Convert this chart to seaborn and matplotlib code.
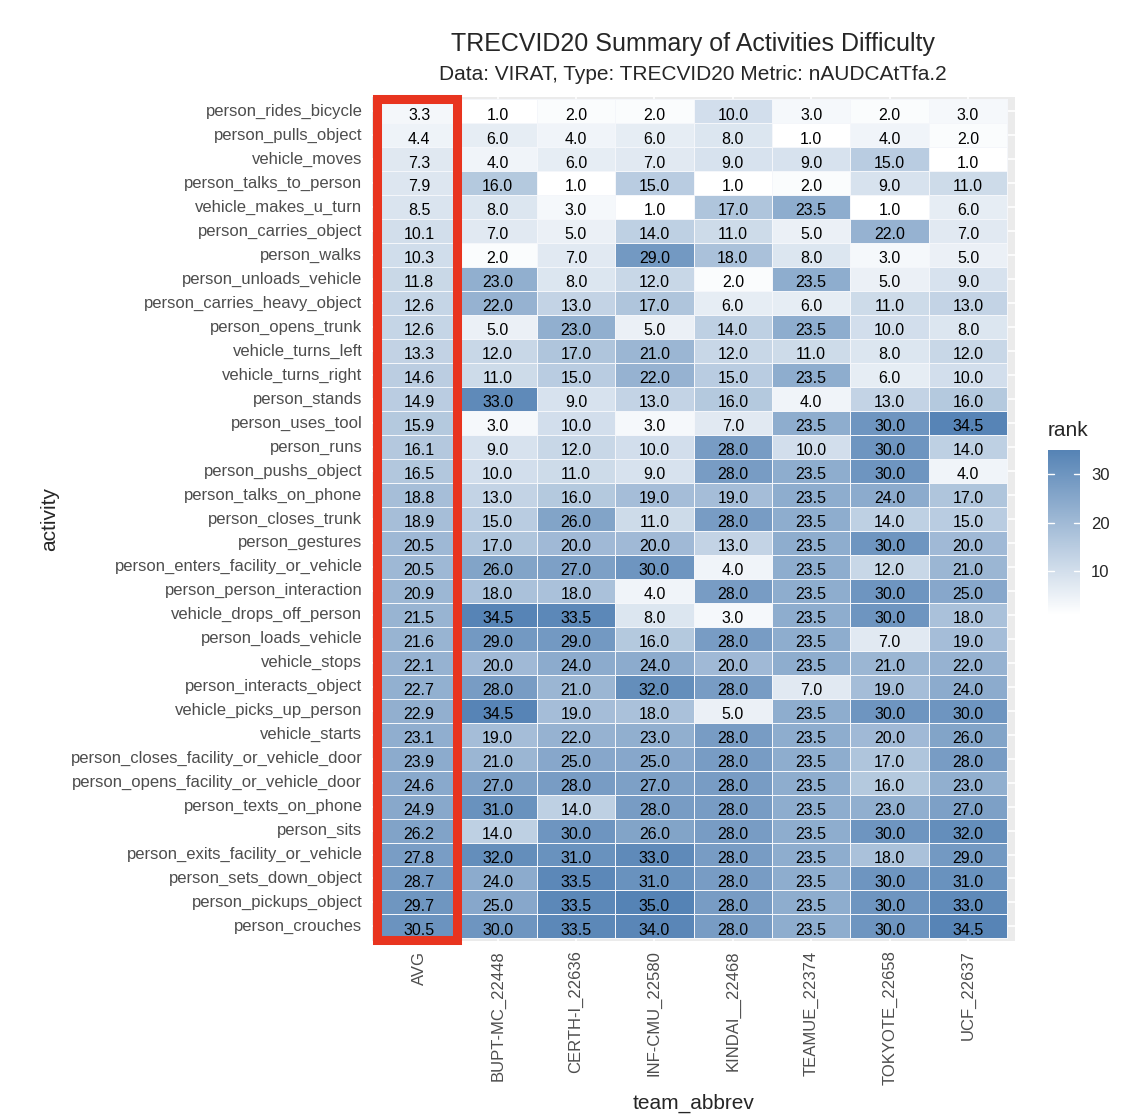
import numpy as np
import pandas as pd
import matplotlib
matplotlib.use('Agg')
import matplotlib.pyplot as plt
import seaborn as sns
from matplotlib.colors import LinearSegmentedColormap
from matplotlib.patches import Rectangle

activities = [
    'person_rides_bicycle', 'person_pulls_object', 'vehicle_moves',
    'person_talks_to_person', 'vehicle_makes_u_turn', 'person_carries_object',
    'person_walks', 'person_unloads_vehicle', 'person_carries_heavy_object',
    'person_opens_trunk', 'vehicle_turns_left', 'vehicle_turns_right',
    'person_stands', 'person_uses_tool', 'person_runs', 'person_pushs_object',
    'person_talks_on_phone', 'person_closes_trunk', 'person_gestures',
    'person_enters_facility_or_vehicle', 'person_person_interaction',
    'vehicle_drops_off_person', 'person_loads_vehicle', 'vehicle_stops',
    'person_interacts_object', 'vehicle_picks_up_person', 'vehicle_starts',
    'person_closes_facility_or_vehicle_door', 'person_opens_facility_or_vehicle_door',
    'person_texts_on_phone', 'person_sits', 'person_exits_facility_or_vehicle',
    'person_sets_down_object', 'person_pickups_object', 'person_crouches',
]

teams = ['AVG', 'BUPT-MC_22448', 'CERTH-I_22636', 'INF-CMU_22580', 'KINDAI__22468',
         'TEAMUE_22374', 'TOKYOTE_22658', 'UCF_22637']

avg = [3.3, 4.4, 7.3, 7.9, 8.5, 10.1, 10.3, 11.8, 12.6, 12.6, 13.3, 14.6, 14.9, 15.9,
       16.1, 16.5, 18.8, 18.9, 20.5, 20.5, 20.9, 21.5, 21.6, 22.1, 22.7, 22.9, 23.1,
       23.9, 24.6, 24.9, 26.2, 27.8, 28.7, 29.7, 30.5]
bupt = [1, 6, 4, 16, 8, 7, 2, 23, 22, 5, 12, 11, 33, 3, 9, 10, 13, 15, 17, 26, 18,
        34.5, 29, 20, 28, 34.5, 19, 21, 27, 31, 14, 32, 24, 25, 30]
certh = [2, 4, 6, 1, 3, 5, 7, 8, 13, 23, 17, 15, 9, 10, 12, 11, 16, 26, 20, 27, 18,
         33.5, 29, 24, 21, 19, 22, 25, 28, 14, 30, 31, 33.5, 33.5, 33.5]
infcmu = [2, 6, 7, 15, 1, 14, 29, 12, 17, 5, 21, 22, 13, 3, 10, 9, 19, 11, 20, 30, 4,
          8, 16, 24, 32, 18, 23, 25, 27, 28, 26, 33, 31, 35, 34]
kindai = [10, 8, 9, 1, 17, 11, 18, 2, 6, 14, 12, 15, 16, 7, 28, 28, 19, 28, 13, 4, 28,
          3, 28, 20, 28, 5, 28, 28, 28, 28, 28, 28, 28, 28, 28]
teamue = [3, 1, 9, 2, 23.5, 5, 8, 23.5, 6, 23.5, 11, 23.5, 4, 23.5, 10, 23.5, 23.5,
          23.5, 23.5, 23.5, 23.5, 23.5, 23.5, 23.5, 7, 23.5, 23.5, 23.5, 23.5, 23.5,
          23.5, 23.5, 23.5, 23.5, 23.5]
tokyote = [2, 4, 15, 9, 1, 22, 3, 5, 11, 10, 8, 6, 13, 30, 30, 30, 24, 14, 30, 12, 30,
           30, 7, 21, 19, 30, 20, 17, 16, 23, 30, 18, 30, 30, 30]
ucf = [3, 2, 1, 11, 6, 7, 5, 9, 13, 8, 12, 10, 16, 34.5, 14, 4, 17, 15, 20, 21, 25,
       18, 19, 22, 24, 30, 26, 28, 23, 27, 32, 29, 31, 33, 34.5]

df = pd.DataFrame({'AVG': avg, 'BUPT-MC_22448': bupt, 'CERTH-I_22636': certh,
                   'INF-CMU_22580': infcmu, 'KINDAI__22468': kindai,
                   'TEAMUE_22374': teamue, 'TOKYOTE_22658': tokyote, 'UCF_22637': ucf},
                  index=activities)[teams]

sns.set_style("white")
plt.rcParams['font.family'] = ['Liberation Sans', 'DejaVu Sans']

cmap = LinearSegmentedColormap.from_list('rank', ['#FFFFFF', '#5583B5'])

fig = plt.figure(figsize=(11.38, 11.16), dpi=100)
ax = fig.add_axes([0.327, 0.157, 0.565, 0.756])
cax = fig.add_axes([0.921, 0.449, 0.028, 0.148])

ax.set_facecolor('#EBEBEB')
sns.heatmap(df, ax=ax, cmap=cmap, vmin=1, vmax=35, annot=True, fmt='.1f',
            annot_kws={'fontsize': 11.5, 'color': 'black'},
            linewidths=0.6, linecolor='#F4F6FA', cbar_ax=cax)

# nudge the labels down a touch like the original
for t in ax.texts:
    x, y = t.get_position()
    t.set_position((x, y + 0.15))

ax.set_xlim(-0.1, len(teams) + 0.1)
ax.set_ylim(len(activities) + 0.1, -0.1)
for i in range(len(teams)):
    ax.axvline(i + 0.5, color='white', lw=1.2, zorder=0)
for j in range(len(activities)):
    ax.axhline(j + 0.5, color='white', lw=1.2, zorder=0)

ax.set_xticks(np.arange(len(teams)) + 0.5)
ax.set_xticklabels(teams, rotation=90, fontsize=12, color='#4D4D4D')
ax.set_yticks(np.arange(len(activities)) + 0.5)
ax.set_yticklabels(activities, rotation=0, fontsize=12, color='#4D4D4D')
ax.tick_params(axis='both', length=4, width=1, color='#333333', pad=3)
for s in ax.spines.values():
    s.set_visible(False)

ax.set_xlabel('team_abbrev', fontsize=15, labelpad=6)
ax.set_ylabel('activity', fontsize=15, labelpad=8)

ax.add_patch(Rectangle((-0.04, 0.0), 1.02, len(activities) + 0.05, fill=False,
                       edgecolor='#E8341F', lw=6.5, clip_on=False, zorder=5))

fig.text(0.609, 0.961, 'TRECVID20 Summary of Activities Difficulty', fontsize=18,
         ha='center', va='center')
fig.text(0.609, 0.933, 'Data: VIRAT, Type: TRECVID20 Metric: nAUDCAtTfa.2', fontsize=15,
         ha='center', va='center')

# legend styled like ggplot colourbar
cbar = ax.collections[0].colorbar
cbar.outline.set_visible(False)
cbar.set_ticks([10, 20, 30])
cax.tick_params(length=0, labelsize=12, pad=8)
for v in [10, 20, 30]:
    cax.plot([0, 0.2], [v, v], color='white', lw=1, transform=cax.get_yaxis_transform())
    cax.plot([0.8, 1], [v, v], color='white', lw=1, transform=cax.get_yaxis_transform())
cax.set_title('rank', fontsize=15, loc='left', pad=10)

fig.savefig('out.png', dpi=100)
